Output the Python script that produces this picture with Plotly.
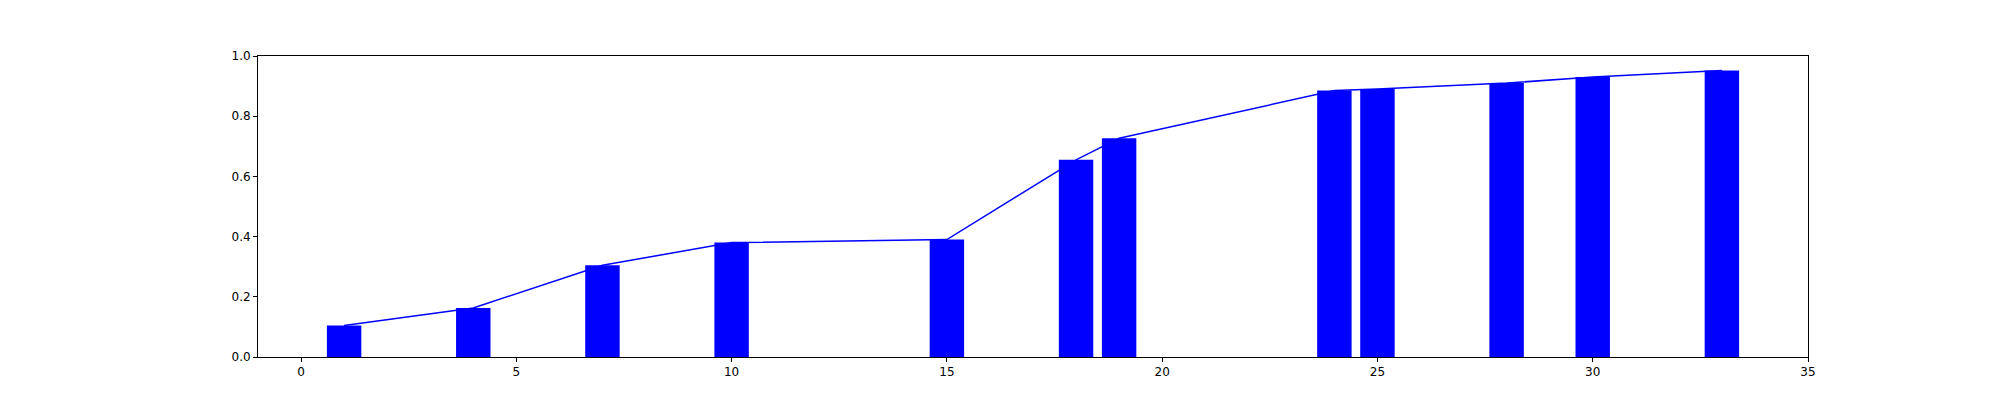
import plotly.graph_objects as go

x_vals = [1, 4, 7, 10, 15, 18, 19, 24, 25, 28, 30, 33]
y_vals = [0.105, 0.163, 0.305, 0.38, 0.39, 0.655, 0.727, 0.885, 0.89, 0.91, 0.93, 0.952]

fig = go.Figure()
fig.add_trace(go.Bar(x=x_vals, y=y_vals, width=0.8, marker=dict(color="#0000ff", line=dict(width=0))))
fig.add_trace(go.Scatter(x=x_vals, y=y_vals, mode="lines", line=dict(color="#0000ff", width=1.5)))

axis_common = dict(showgrid=False, zeroline=False, showline=True, linecolor="black", linewidth=1,
                   mirror=True, ticks="outside", ticklen=4, tickcolor="black",
                   tickfont=dict(family="DejaVu Sans", size=12, color="black"))
fig.update_layout(
    width=2000, height=400, showlegend=False,
    plot_bgcolor="white", paper_bgcolor="white",
    margin=dict(l=250, r=200, t=48, b=51),
    xaxis=dict(range=[-1, 35], tickvals=[0, 5, 10, 15, 20, 25, 30, 35], **axis_common),
    yaxis=dict(range=[0, 1], tickvals=[0, 0.2, 0.4, 0.6, 0.8, 1.0], tickformat=".1f", **axis_common),
)
fig.write_html("out.html")
